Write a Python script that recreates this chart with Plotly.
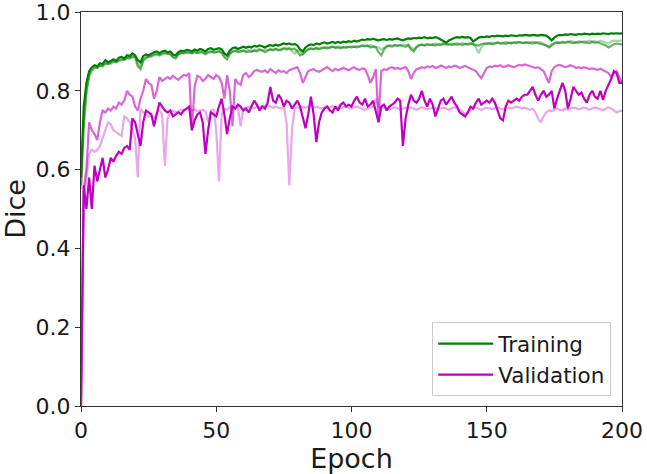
import plotly.graph_objects as go

EPOCHS = list(range(201))

TRAIN_1 = [
    0.58, 0.76, 0.82, 0.85, 0.86, 0.865, 0.862, 0.87, 0.868, 0.878,
    0.872, 0.875, 0.88, 0.876, 0.884, 0.886, 0.882, 0.89, 0.888, 0.895,
    0.89, 0.878, 0.872, 0.888, 0.892, 0.89, 0.895, 0.898, 0.9, 0.896,
    0.9, 0.902, 0.898, 0.9, 0.892, 0.89, 0.898, 0.902, 0.9, 0.904,
    0.903, 0.9, 0.905, 0.902, 0.906, 0.904, 0.9, 0.906, 0.908, 0.904,
    0.906, 0.908, 0.905, 0.895, 0.89, 0.902, 0.908, 0.91, 0.906, 0.91,
    0.912, 0.909, 0.912, 0.91, 0.914, 0.912, 0.915, 0.913, 0.91, 0.914,
    0.916, 0.914, 0.917, 0.915, 0.918, 0.92, 0.918, 0.92, 0.917, 0.919,
    0.915, 0.905, 0.9, 0.91, 0.915, 0.918, 0.916, 0.92, 0.918, 0.921,
    0.923, 0.92, 0.922, 0.924, 0.921, 0.924, 0.922, 0.925, 0.923, 0.926,
    0.924, 0.927, 0.925, 0.928, 0.93, 0.929, 0.931, 0.93, 0.932, 0.93,
    0.928, 0.93, 0.931, 0.929, 0.931, 0.93, 0.932, 0.933, 0.93, 0.928,
    0.931, 0.933, 0.932, 0.934, 0.933, 0.935, 0.934, 0.936, 0.933, 0.935,
    0.934, 0.936, 0.934, 0.93, 0.926, 0.922, 0.928, 0.932, 0.934, 0.936,
    0.935, 0.937, 0.935, 0.936, 0.934, 0.925, 0.93, 0.935, 0.937, 0.936,
    0.938, 0.937, 0.939, 0.938, 0.94, 0.939, 0.938, 0.94, 0.939, 0.941,
    0.94, 0.939, 0.941, 0.94, 0.942, 0.941, 0.94, 0.942, 0.941, 0.94,
    0.942, 0.941, 0.94, 0.935, 0.928, 0.935, 0.94, 0.942, 0.941, 0.943,
    0.942, 0.944, 0.943, 0.942, 0.944, 0.943, 0.945, 0.944, 0.943, 0.945,
    0.944, 0.945, 0.944, 0.946, 0.945, 0.944, 0.946, 0.945, 0.946, 0.945,
    0.946,
]

TRAIN_2 = [
    0.56, 0.72, 0.8, 0.84, 0.855, 0.86, 0.858, 0.865, 0.862, 0.87,
    0.868, 0.872, 0.875, 0.872, 0.878, 0.88, 0.878, 0.884, 0.882, 0.888,
    0.885, 0.862, 0.855, 0.878, 0.885, 0.886, 0.89, 0.892, 0.894, 0.89,
    0.895, 0.897, 0.893, 0.895, 0.885, 0.882, 0.892, 0.896, 0.895, 0.898,
    0.897, 0.895, 0.898, 0.896, 0.9, 0.898, 0.894, 0.899, 0.9, 0.897,
    0.898, 0.9, 0.896, 0.885, 0.88, 0.893, 0.9, 0.902, 0.898, 0.9,
    0.902, 0.898, 0.9, 0.899, 0.903, 0.9, 0.904, 0.902, 0.898, 0.902,
    0.905, 0.903, 0.906, 0.903, 0.906, 0.908, 0.905, 0.908, 0.905, 0.907,
    0.9, 0.89, 0.893, 0.9, 0.905, 0.907, 0.905, 0.908, 0.906, 0.908,
    0.91, 0.908, 0.91, 0.912, 0.909, 0.91, 0.908, 0.911, 0.909, 0.912,
    0.91, 0.912, 0.91, 0.913, 0.915, 0.913, 0.915, 0.91, 0.912, 0.91,
    0.898, 0.89, 0.905, 0.912, 0.914, 0.912, 0.915, 0.914, 0.916, 0.913,
    0.912, 0.915, 0.905, 0.9, 0.91, 0.915, 0.917, 0.915, 0.918, 0.916,
    0.917, 0.915, 0.918, 0.916, 0.919, 0.917, 0.918, 0.916, 0.919, 0.917,
    0.918, 0.916, 0.919, 0.917, 0.92, 0.918, 0.917, 0.915, 0.918, 0.92,
    0.919, 0.921, 0.918, 0.92, 0.922, 0.92, 0.921, 0.919, 0.922, 0.92,
    0.923, 0.921, 0.924, 0.922, 0.921, 0.923, 0.922, 0.92, 0.923, 0.921,
    0.92, 0.918, 0.915, 0.91, 0.916, 0.92, 0.922, 0.921, 0.923, 0.922,
    0.924, 0.922, 0.921, 0.923, 0.922, 0.924, 0.922, 0.923, 0.921, 0.924,
    0.922, 0.923, 0.921, 0.918, 0.915, 0.91, 0.915, 0.918, 0.92, 0.919,
    0.918,
]

TRAIN_3 = [
    0.55, 0.7, 0.79, 0.835, 0.85, 0.858, 0.86, 0.862, 0.865, 0.868,
    0.87, 0.868, 0.874, 0.876, 0.875, 0.878, 0.88, 0.882, 0.885, 0.884,
    0.886, 0.87, 0.86, 0.875, 0.882, 0.888, 0.886, 0.89, 0.891, 0.893,
    0.892, 0.895, 0.896, 0.89, 0.888, 0.886, 0.894, 0.895, 0.897, 0.896,
    0.898, 0.896, 0.899, 0.897, 0.895, 0.898, 0.892, 0.896, 0.899, 0.9,
    0.899, 0.902, 0.898, 0.89, 0.887, 0.895, 0.899, 0.901, 0.903, 0.9,
    0.903, 0.901, 0.904, 0.902, 0.9, 0.904, 0.906, 0.903, 0.905, 0.903,
    0.906, 0.904, 0.907, 0.905, 0.902, 0.907, 0.909, 0.906, 0.9, 0.895,
    0.903, 0.9, 0.892, 0.902, 0.906, 0.908, 0.906, 0.909, 0.907, 0.91,
    0.909, 0.911, 0.909, 0.912, 0.91, 0.913, 0.911, 0.91, 0.912, 0.911,
    0.913, 0.911, 0.914, 0.912, 0.914, 0.915, 0.913, 0.916, 0.914, 0.912,
    0.91, 0.905, 0.91, 0.914, 0.916, 0.915, 0.917, 0.915, 0.916, 0.918,
    0.916, 0.918, 0.91, 0.905, 0.912, 0.917, 0.918, 0.916, 0.919, 0.917,
    0.918, 0.92, 0.917, 0.919, 0.921, 0.919, 0.918, 0.92, 0.918, 0.921,
    0.919, 0.921, 0.92, 0.918, 0.921, 0.92, 0.91, 0.895, 0.91, 0.919,
    0.921, 0.92, 0.922, 0.921, 0.923, 0.921, 0.922, 0.924, 0.921, 0.923,
    0.922, 0.924, 0.923, 0.921, 0.924, 0.922, 0.923, 0.925, 0.922, 0.924,
    0.923, 0.92, 0.916, 0.912, 0.918, 0.922, 0.924, 0.923, 0.925, 0.923,
    0.924, 0.926, 0.925, 0.923, 0.926, 0.924, 0.926, 0.925, 0.927, 0.925,
    0.926, 0.924, 0.927, 0.925, 0.923, 0.92, 0.925, 0.928, 0.926, 0.927,
    0.928,
]

VAL_1 = [
    0.0, 0.56, 0.5, 0.58, 0.5, 0.61, 0.57, 0.6, 0.63, 0.58,
    0.6, 0.63, 0.62, 0.635, 0.645, 0.64, 0.655, 0.66, 0.65, 0.73,
    0.72, 0.69, 0.66, 0.72, 0.75, 0.745, 0.74, 0.71, 0.74, 0.77,
    0.76, 0.75, 0.745, 0.75, 0.735, 0.74, 0.745, 0.74, 0.75, 0.755,
    0.76, 0.7, 0.725, 0.74, 0.745, 0.72, 0.64, 0.7, 0.745, 0.74,
    0.735, 0.76, 0.78, 0.74, 0.69, 0.73, 0.76, 0.755, 0.765, 0.76,
    0.75, 0.755, 0.745, 0.76, 0.775, 0.765, 0.75, 0.76, 0.755, 0.77,
    0.81, 0.775, 0.77, 0.79, 0.78, 0.76, 0.775, 0.77, 0.755, 0.765,
    0.775, 0.76, 0.73, 0.705, 0.74, 0.785, 0.74, 0.67, 0.72, 0.745,
    0.755, 0.76, 0.75, 0.745, 0.76, 0.75, 0.765, 0.77, 0.76, 0.765,
    0.76, 0.775, 0.785, 0.77, 0.765, 0.78, 0.76, 0.765, 0.775, 0.75,
    0.72, 0.76, 0.765, 0.75, 0.76, 0.765, 0.77, 0.78, 0.775, 0.66,
    0.73, 0.765, 0.79, 0.775, 0.77, 0.78, 0.8, 0.775, 0.76, 0.78,
    0.765, 0.735, 0.755, 0.775, 0.78, 0.765, 0.775, 0.785, 0.77, 0.76,
    0.745, 0.74, 0.735, 0.745, 0.76, 0.755, 0.77, 0.78, 0.765, 0.77,
    0.775, 0.77, 0.78, 0.77, 0.75, 0.73, 0.725, 0.76, 0.775, 0.77,
    0.775, 0.78, 0.775, 0.785, 0.79, 0.79, 0.8, 0.81, 0.79, 0.775,
    0.79, 0.8, 0.785, 0.79, 0.8, 0.755, 0.78, 0.8, 0.82, 0.8,
    0.755, 0.78, 0.81, 0.8, 0.79, 0.795, 0.78, 0.77, 0.79, 0.8,
    0.785, 0.78, 0.8, 0.777, 0.8, 0.815, 0.83, 0.85, 0.845, 0.82,
    0.82,
]

VAL_2 = [
    0.0, 0.55, 0.6, 0.72, 0.7, 0.69, 0.675, 0.72, 0.75, 0.745,
    0.755, 0.75, 0.76, 0.755, 0.77, 0.765, 0.775, 0.8, 0.79, 0.785,
    0.76, 0.75, 0.78, 0.8, 0.83, 0.82, 0.815, 0.78, 0.8, 0.835,
    0.825, 0.83, 0.835, 0.83, 0.838, 0.832, 0.828, 0.835, 0.84, 0.838,
    0.845, 0.7, 0.81, 0.838, 0.835, 0.825, 0.83, 0.84, 0.835, 0.83,
    0.84, 0.835, 0.82, 0.78, 0.84, 0.8, 0.71, 0.83, 0.82, 0.815,
    0.84, 0.845, 0.835, 0.84, 0.85, 0.853, 0.85, 0.848, 0.852, 0.846,
    0.855, 0.85, 0.845, 0.852, 0.848, 0.85, 0.845, 0.852, 0.855, 0.858,
    0.86, 0.845, 0.82, 0.835, 0.85, 0.853, 0.855, 0.85, 0.848, 0.852,
    0.855, 0.86, 0.855, 0.85, 0.856, 0.852, 0.855, 0.858, 0.855, 0.852,
    0.857, 0.86, 0.855, 0.853, 0.857, 0.855, 0.84, 0.82, 0.835, 0.855,
    0.725, 0.85, 0.855, 0.853, 0.858, 0.86, 0.856, 0.858, 0.855, 0.857,
    0.86, 0.85, 0.83, 0.845, 0.855, 0.857, 0.86, 0.858, 0.862, 0.86,
    0.863, 0.858, 0.86, 0.864, 0.86, 0.858, 0.862, 0.86, 0.864, 0.862,
    0.858, 0.86, 0.863, 0.86, 0.857, 0.855, 0.85, 0.84, 0.832, 0.845,
    0.858, 0.862, 0.86, 0.864, 0.862, 0.865, 0.86, 0.862, 0.865, 0.862,
    0.86, 0.863, 0.866, 0.864, 0.867, 0.865, 0.862, 0.86, 0.858, 0.86,
    0.856, 0.85, 0.835, 0.82, 0.85, 0.86, 0.864, 0.866, 0.863, 0.86,
    0.862, 0.865, 0.862, 0.858, 0.86, 0.857, 0.86, 0.858, 0.855, 0.857,
    0.855, 0.853, 0.856, 0.852, 0.85, 0.845, 0.835, 0.845, 0.85, 0.835,
    0.82,
]

VAL_3 = [
    0.0, 0.52, 0.58, 0.64, 0.65, 0.645, 0.65, 0.66, 0.68, 0.7,
    0.72, 0.715, 0.7, 0.695, 0.69, 0.685, 0.735, 0.73, 0.72, 0.7,
    0.68, 0.58, 0.755, 0.745, 0.74, 0.735, 0.735, 0.73, 0.745, 0.75,
    0.74, 0.61, 0.73, 0.745, 0.75, 0.745, 0.748, 0.752, 0.75, 0.755,
    0.755, 0.75, 0.753, 0.748, 0.75, 0.752, 0.748, 0.72, 0.75, 0.752,
    0.7, 0.57, 0.74, 0.755, 0.752, 0.758, 0.76, 0.755, 0.758, 0.71,
    0.755, 0.757, 0.76, 0.758, 0.755, 0.76, 0.758, 0.762, 0.76, 0.763,
    0.76, 0.757, 0.76, 0.758, 0.755, 0.758, 0.72, 0.56, 0.7, 0.755,
    0.758, 0.755, 0.76, 0.757, 0.76, 0.762, 0.758, 0.76, 0.757, 0.755,
    0.758, 0.76, 0.757, 0.762, 0.758, 0.76, 0.756, 0.758, 0.76, 0.757,
    0.755, 0.758, 0.76, 0.757, 0.755, 0.752, 0.755, 0.758, 0.76, 0.78,
    0.76, 0.755, 0.758, 0.756, 0.752, 0.755, 0.758, 0.756, 0.752, 0.755,
    0.757, 0.755, 0.758, 0.755, 0.752, 0.755, 0.758, 0.756, 0.753, 0.755,
    0.758, 0.756, 0.752, 0.755, 0.757, 0.755, 0.752, 0.755, 0.758, 0.755,
    0.752, 0.748, 0.74, 0.745, 0.752, 0.755, 0.758, 0.755, 0.752, 0.755,
    0.757, 0.755, 0.753, 0.756, 0.758, 0.755, 0.753, 0.756, 0.758, 0.755,
    0.757, 0.76, 0.758, 0.755, 0.757, 0.755, 0.752, 0.755, 0.745, 0.73,
    0.72, 0.735, 0.745, 0.75, 0.748, 0.752, 0.755, 0.752, 0.75, 0.755,
    0.752, 0.755, 0.758, 0.756, 0.753, 0.755, 0.757, 0.755, 0.752, 0.755,
    0.758, 0.756, 0.752, 0.75, 0.755, 0.758, 0.755, 0.75, 0.745, 0.748,
    0.75,
]

GREEN = "0,128,0"
MAGENTA = "191,0,191"

series = [
    (TRAIN_3, GREEN, 0.35, None),
    (TRAIN_2, GREEN, 0.6, None),
    (VAL_3, MAGENTA, 0.35, None),
    (VAL_2, MAGENTA, 0.6, None),
    (TRAIN_1, GREEN, 1.0, "Training"),
    (VAL_1, MAGENTA, 1.0, "Validation"),
]

fig = go.Figure()
for vals, rgb, alpha, name in series:
    fig.add_trace(go.Scatter(
        x=EPOCHS, y=vals, mode="lines",
        line=dict(color=f"rgba({rgb},{alpha})", width=2.2),
        name=name if name else "",
        showlegend=name is not None,
        hoverinfo="skip",
    ))

axis_common = dict(
    showgrid=False, zeroline=False, showline=True, mirror=True,
    linecolor="#333333", linewidth=1, ticks="outside", ticklen=5,
    tickwidth=1, tickcolor="#333333", automargin=False,
    ticklabeloverflow="allow",
    tickfont=dict(family="DejaVu Sans", size=22, color="#1a1a1a"),
)

fig.update_layout(
    width=647, height=474,
    margin=dict(l=81, r=25, t=12, b=68),
    paper_bgcolor="white", plot_bgcolor="white",
    font=dict(family="DejaVu Sans", color="#1a1a1a"),
    xaxis=dict(range=[0, 200], tickvals=[0, 50, 100, 150, 200],
               title=dict(text="Epoch", font=dict(size=27), standoff=2),
               **axis_common),
    yaxis=dict(range=[0, 1.0], tickvals=[0, 0.2, 0.4, 0.6, 0.8, 1.0],
               ticktext=["0.0", "0.2", "0.4", "0.6", "0.8", "1.0"],
               title=dict(text="Dice", font=dict(size=27), standoff=8),
               **axis_common),
    legend=dict(x=0.98, y=0.025, xanchor="right", yanchor="bottom",
                bgcolor="rgba(255,255,255,0.8)", bordercolor="#cccccc",
                borderwidth=1, font=dict(family="DejaVu Sans", size=21.5, color="#1a1a1a"),
                itemwidth=55, tracegroupgap=0),
)

fig.write_html(
    "out.html",
    config={"displayModeBar": False},
    post_script="document.body.style.margin='0';document.body.style.padding='0';",
)
